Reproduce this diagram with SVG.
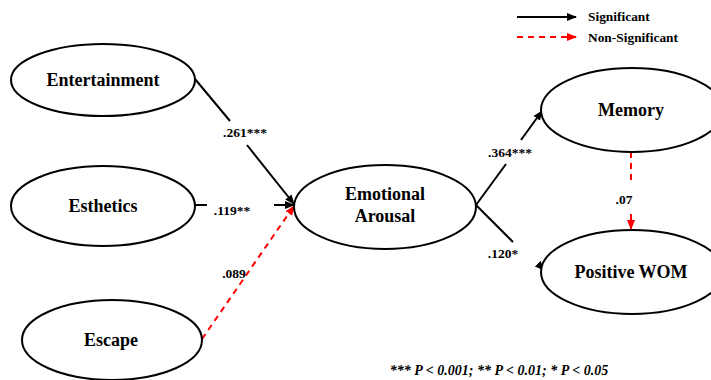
<svg xmlns="http://www.w3.org/2000/svg" width="711" height="380" viewBox="0 0 711 380">
<style>
.node{fill:#fff;stroke:#000;stroke-width:2}
text{font-family:"Liberation Serif","Times New Roman","DejaVu Serif",serif;font-weight:bold;fill:#000}
.nt{font-size:18px;text-anchor:middle}
.el{font-size:13.5px;text-anchor:middle}
.sig{stroke:#000;stroke-width:2;fill:none}
.ns{stroke:#f00;stroke-width:2;fill:none;stroke-dasharray:6,5}
.lg{font-size:13.4px}
.fn{font-size:14px;font-style:italic;text-anchor:middle}
</style>
<defs>
<marker id="ab" viewBox="0 0 10 10" refX="9" refY="5" markerWidth="5" markerHeight="5" orient="auto" markerUnits="strokeWidth"><path d="M0,1 L10,5 L0,9 z" fill="#000"/></marker>
<marker id="ar" viewBox="0 0 10 10" refX="9" refY="5" markerWidth="5" markerHeight="5" orient="auto" markerUnits="strokeWidth"><path d="M0,1 L10,5 L0,9 z" fill="#f00"/></marker>
</defs>
<g id="connectors">
<path class="sig" d="M195,79 L230,121"/>
<path class="sig" d="M247,145 L294,204" marker-end="url(#ab)"/>
<path class="sig" d="M195,205 L207,205"/>
<path class="sig" d="M274,205 L294,205" marker-end="url(#ab)"/>
<path class="ns" d="M202,339 L294,206" marker-end="url(#ar)"/>
<path class="sig" d="M476,205 L506,164"/>
<path class="sig" d="M521,140 L542,111" marker-end="url(#ab)"/>
<path class="sig" d="M476,205 L513,242"/>
<path class="sig" d="M538,264 L544,270" marker-end="url(#ab)"/>
<path class="ns" d="M631,152 L631,185" stroke-dasharray="6,4"/>
<path class="ns" d="M631,214 L631,229" marker-end="url(#ar)" stroke-dasharray="6,3"/>
<text class="el" x="245" y="137">.261***</text>
<text class="el" x="232" y="215">.119**</text>
<text class="el" x="234" y="278">.089</text>
<text class="el" x="510" y="157">.364***</text>
<text class="el" x="503" y="258">.120*</text>
<text class="el" x="624" y="204">.07</text>
</g>
<g id="legend">
<path class="sig" d="M517,17 L576,17" marker-end="url(#ab)"/>
<path class="ns" d="M517,37 L576,37" marker-end="url(#ar)"/>
<text class="lg" x="588" y="21">Significant</text>
<text class="lg" x="588" y="42">Non-Significant</text>
</g>
<g id="entertainment"><ellipse class="node" cx="103" cy="80" rx="92" ry="36"/><text class="nt" x="103" y="86">Entertainment</text></g>
<g id="esthetics"><ellipse class="node" cx="103" cy="206" rx="92" ry="40"/><text class="nt" x="103" y="212">Esthetics</text></g>
<g id="escape"><ellipse class="node" cx="112" cy="340" rx="90" ry="40"/><text class="nt" x="111" y="346">Escape</text></g>
<g id="emotional-arousal"><ellipse class="node" cx="385" cy="207" rx="91" ry="42"/><text class="nt" x="385" y="200">Emotional</text><text class="nt" x="385" y="222">Arousal</text></g>
<g id="memory"><ellipse class="node" cx="632" cy="110" rx="91" ry="42"/><text class="nt" x="631" y="116">Memory</text></g>
<g id="positive-wom"><ellipse class="node" cx="632" cy="272" rx="91" ry="42"/><text class="nt" x="631" y="278">Positive WOM</text></g>
<text class="fn" x="499" y="375">*** P &lt; 0.001; ** P &lt; 0.01; * P &lt; 0.05</text>
</svg>
